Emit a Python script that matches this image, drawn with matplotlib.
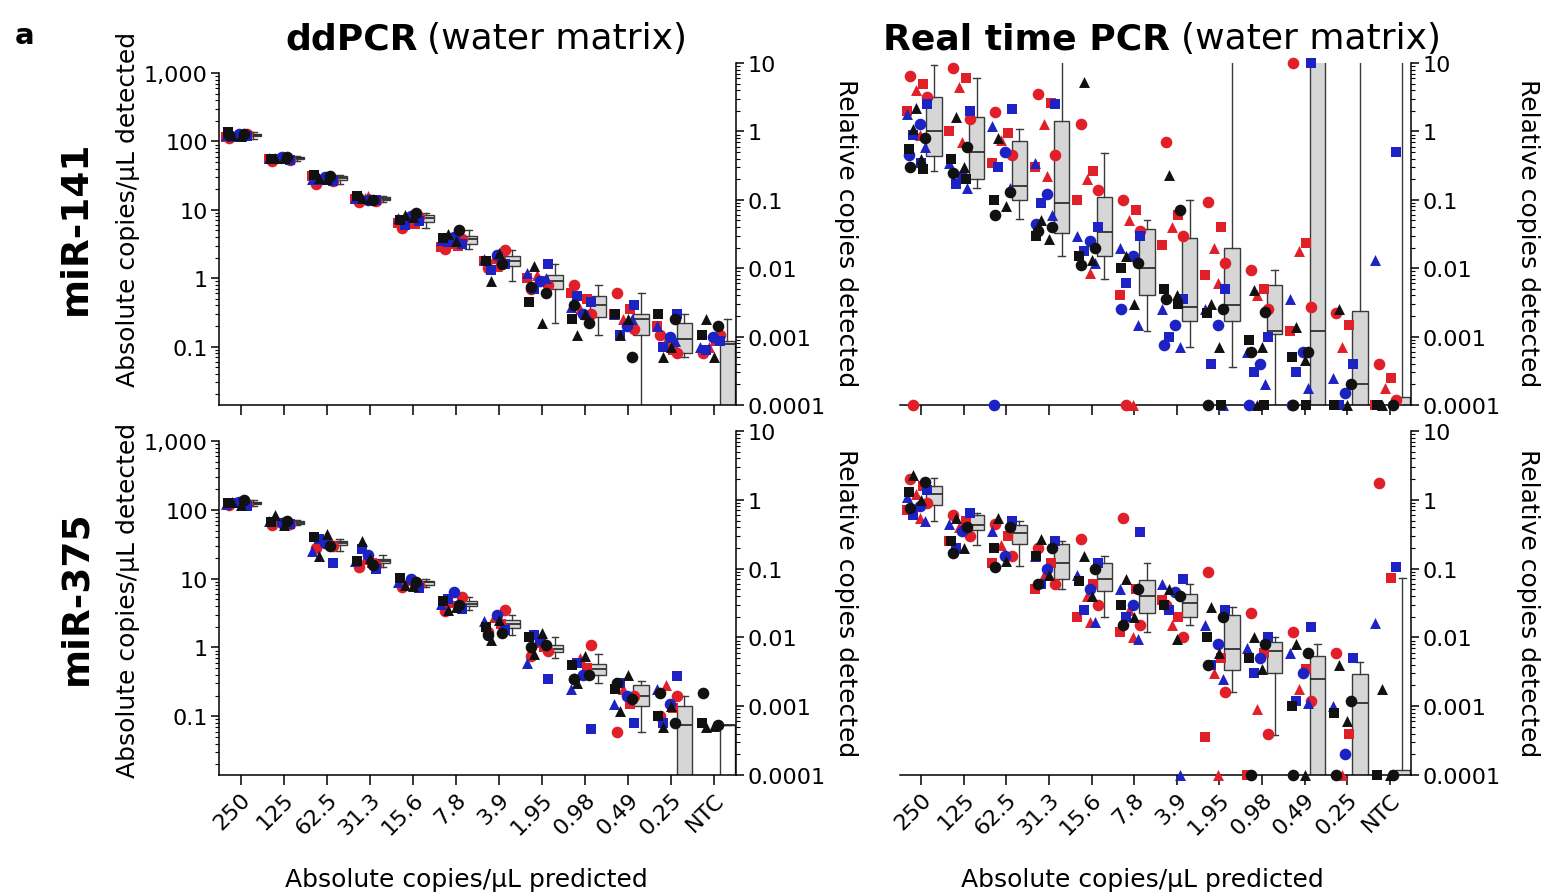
import numpy as np
import matplotlib
matplotlib.use('Agg')
import matplotlib.pyplot as plt
from matplotlib.ticker import FixedLocator, FixedFormatter, LogLocator, NullFormatter

plt.rcParams['font.family'] = ['DejaVu Sans']

W, H = 1546, 895

categories = ['250', '125', '62.5', '31.3', '15.6', '7.8', '3.9', '1.95', '0.98', '0.49', '0.25', 'NTC']

# ---- ddPCR miR-141 (absolute copies/uL) ----
dd141_red = [[112, 118, 122, 128, 115, 125], [52, 55, 58, 54, 56, 60], [24, 27, 29, 26, 31, 28],
             [13, 14, 15, 13.5, 14.5, 16], [5.5, 6.2, 7.0, 7.8, 6.5, 8.3], [2.7, 3.0, 3.3, 3.8, 2.9, 4.2],
             [1.4, 1.7, 2.0, 2.6, 1.8, 1.5], [0.7, 0.9, 1.1, 0.8, 1.0], [0.8, 0.5, 0.35, 0.3, 0.6],
             [0.6, 0.35, 0.25, 0.18, 0.3], [0.15, 0.09, 0.12, 0.08, 0.2], [0.08, 0.12, 0.1, 0.15]]
dd141_blue = [[120, 126, 130, 117, 124], [54, 57, 59, 56], [26, 28, 30, 27],
              [14, 15, 13.8], [6.8, 7.5, 8.0, 6.0], [3.2, 3.6, 4.0, 3.4],
              [1.6, 1.9, 2.2, 1.3], [1.6, 1.2, 0.9, 0.7, 1.0], [0.45, 0.38, 0.3, 0.55, 0.25],
              [0.4, 0.3, 0.2, 0.15, 0.25], [0.3, 0.2, 0.14, 0.1, 0.12], [0.12, 0.1, 0.14, 0.09]]
dd141_black = [[122, 128, 135, 119, 125], [58, 60, 55, 57], [29, 31, 32, 28],
               [15, 14, 16, 14.5], [8.5, 9.0, 7.2, 7.8], [4.5, 5.0, 3.9, 3.5],
               [0.9, 1.6, 1.8, 2.3], [1.5, 0.6, 0.45, 0.22, 0.75], [0.15, 0.22, 0.25, 0.3, 0.4],
               [0.15, 0.07, 0.3, 0.25], [0.07, 0.25, 0.3, 0.1], [0.25, 0.2, 0.15, 0.07]]
# (min, q1, median, q3, max); 0 = not detected
dd141_box = [(110, 118, 124, 130, 135), (52, 55, 57, 59, 61), (24, 27, 29, 31, 32),
             (13, 13.8, 14.5, 15.3, 16), (5.5, 6.6, 7.5, 8.3, 9), (2.7, 3.2, 3.7, 4.2, 5),
             (0.9, 1.5, 1.8, 2.1, 2.6), (0.22, 0.7, 0.9, 1.1, 1.6), (0.15, 0.27, 0.4, 0.55, 0.8),
             (0, 0.15, 0.25, 0.3, 0.6), (0.07, 0.08, 0.13, 0.22, 0.3), (0, 0, 0.11, 0.12, 0.25)]

# ---- ddPCR miR-375 (absolute copies/uL) ----
dd375_red = [[118, 125, 130, 122], [60, 65, 70, 62], [28, 32, 36, 30], [15, 17, 19, 16],
             [7.5, 8.5, 9.5, 8], [3.4, 4.0, 4.6, 5.5], [1.7, 2.2, 2.8, 3.5], [0.75, 1.0, 1.2, 0.9],
             [0.35, 0.5, 0.7, 1.1], [0.06, 0.15, 0.25, 0.2], [0.1, 0.13, 0.28, 0.2], []]
dd375_blue = [[115, 120, 128, 124], [62, 68, 64], [17, 25, 33, 38], [14, 18, 22, 27],
              [7.2, 8.8, 9.8], [3.6, 4.3, 6.5, 5.0], [1.8, 2.4, 3.0], [0.35, 0.6, 1.3, 1.5],
              [0.065, 0.25, 0.4, 0.6], [0.08, 0.15, 0.2, 0.3], [0.38, 0.25, 0.15, 0.08], []]
dd375_black = [[130, 140, 126, 119], [85, 70, 66, 60], [21, 30, 40, 45], [35, 16, 18, 20],
               [8.2, 9.0, 10.2, 7.8], [3.5, 4.2, 4.8, 3.9], [1.3, 1.6, 2.0, 2.5, 1.5],
               [0.8, 1.1, 1.4, 1.6, 1.0], [0.3, 0.4, 0.55, 0.75, 0.35], [0.12, 0.18, 0.25, 0.4, 0.3],
               [0.07, 0.08, 0.1, 0.14, 0.22], [0.07, 0.075, 0.08, 0.072, 0.22]]
dd375_box = [(115, 120, 125, 130, 140), (60, 62, 65, 68, 72), (25, 31, 33, 35, 38),
             (15, 17, 18, 19.5, 22), (7.5, 8.2, 8.8, 9.4, 10), (3.5, 4.0, 4.3, 4.8, 5.5),
             (1.5, 1.9, 2.2, 2.5, 3.0), (0.7, 0.85, 0.95, 1.1, 1.4), (0.3, 0.4, 0.48, 0.58, 0.8),
             (0.06, 0.14, 0.2, 0.28, 0.33), (0, 0, 0.075, 0.14, 0.2), (0, 0, 0.075, 0.075, 0.075)]

# ---- Real time PCR miR-141 (relative copies) ----
rt141_red = [[6.5, 5.0, 4.0, 3.2, 2.0, 0.9, 0], [8.5, 6.0, 4.5, 1.5, 1.0, 0.7], [1.9, 0.95, 0.75, 0.45, 0.35],
             [3.5, 2.6, 1.3, 0.45, 0.3, 0.22], [1.3, 0.26, 0.2, 0.14, 0.1, 0.0085],
             [0.1, 0.07, 0.05, 0.035, 0.004, 0, 0], [0.7, 0.06, 0.04, 0.03, 0.022],
             [0.093, 0.04, 0.02, 0.012, 0.008, 0.006], [0.0095, 0.005, 0.004, 0.0025],
             [10, 0.023, 0.018, 0.0027, 0.0012], [0.0022, 0.0015, 0.0007], [0.0004, 0.00025, 0.00018, 0.00012, 0]]
rt141_blue = [[2.5, 1.8, 1.3, 0.9, 0.6, 0.45, 0.35], [2.0, 0.35, 0.22, 0.17, 0.15], [2.1, 1.2, 0.5, 0.3, 0.15, 0],
              [2.5, 0.35, 0.12, 0.09, 0.06, 0.045], [0.04, 0.03, 0.025, 0.018, 0.012],
              [0.03, 0.02, 0.015, 0.006, 0.0015, 0.0025], [0.0035, 0.0025, 0.0015, 0.001, 0.0007, 0.00075],
              [0.005, 0.0025, 0.0015, 0.0004, 0], [0.001, 0.0006, 0.0004, 0.0003, 0.0002, 0],
              [10, 0.0035, 0.0006, 0.0003, 0.00018, 0], [0.0004, 0.00025, 0.00015, 0], [0.5, 0.013]]
rt141_black = [[1.1, 0.8, 0.55, 0.4, 0.3, 0.28, 2.2], [1.6, 0.6, 0.4, 0.3, 0.25, 0.2], [0.8, 0.13, 0.1, 0.08, 0.06],
               [0.05, 0.04, 0.03, 0.027, 0.035], [5.3, 0.02, 0.015, 0.013, 0.011], [0.015, 0.012, 0.01, 0.003],
               [0.23, 0.07, 0.005, 0.004, 0.0035, 0.003], [0.003, 0.0025, 0.0022, 0.0007, 0, 0],
               [0.0048, 0.0023, 0.0009, 0.0007, 0.0006, 0, 0], [0.0014, 0.0006, 0.0005, 0.00045, 0, 0],
               [0.0025, 0.0002, 0, 0], [0, 0, 0]]
rt141_box = [(0.26, 0.43, 1.0, 3.2, 9.5), (0.15, 0.2, 0.5, 1.6, 6), (0.053, 0.1, 0.16, 0.72, 1.1),
             (0.015, 0.033, 0.09, 1.4, 100), (0.007, 0.015, 0.034, 0.11, 0.49), (0.0012, 0.0041, 0.01, 0.037, 0.05),
             (0.0007, 0.0017, 0.0027, 0.028, 0.1), (0.00036, 0.0017, 0.0029, 0.02, 100),
             (0, 0.0011, 0.0012, 0.0056, 0.0095), (0, 0, 0.0012, 100, 100), (0, 0, 0.0002, 0.0024, 100),
             (0, 0, 0, 0.00013, 100)]

# ---- Real time PCR miR-375 (relative copies) ----
rt375_red = [[2.0, 1.6, 1.2, 0.9, 0.7, 0.55], [0.6, 0.5, 0.4, 0.3, 0.25], [0.45, 0.3, 0.22, 0.15, 0.12],
             [0.2, 0.12, 0.08, 0.06, 0.05], [0.27, 0.06, 0.04, 0.03, 0.02, 0.017],
             [0.54, 0.05, 0.025, 0.015, 0.012, 0.01], [0.03, 0.02, 0.015, 0.01, 0.035],
             [0.089, 0.005, 0.003, 0.0016, 0.00036, 0], [0.023, 0.006, 0.0009, 0.0004, 0],
             [0.012, 0.0035, 0.0018, 0.0012], [0.006, 0.0004, 0], [1.75, 0.072]]
rt375_blue = [[1.4, 1.1, 0.8, 0.6, 0.5], [0.65, 0.45, 0.35, 0.2], [0.5, 0.35, 0.15],
              [0.25, 0.15, 0.1, 0.06], [0.12, 0.08, 0.05, 0.025, 0.017], [0.34, 0.05, 0.03, 0.02, 0.0095],
              [0.07, 0.06, 0.045, 0.025, 0], [0.025, 0.015, 0.008, 0.004, 0.0025], [0.01, 0.007, 0.005, 0.003],
              [0.014, 0.006, 0.003, 0.0012, 0.0011], [0.005, 0.001, 0.0002], [0.105, 0.016]]
rt375_black = [[2.3, 1.8, 1.3, 1.0, 0.75], [0.55, 0.4, 0.25, 0.2, 0.17], [0.55, 0.4, 0.2, 0.13, 0.105],
               [0.27, 0.2, 0.15, 0.08, 0.06], [0.15, 0.1, 0.065, 0.04], [0.07, 0.05, 0.03, 0.02, 0.015],
               [0.05, 0.04, 0.03, 0.0095], [0.028, 0.02, 0.01, 0.006, 0.004], [0.01, 0.008, 0.005, 0.0035, 0],
               [0.008, 0.006, 0.001, 0, 0], [0.004, 0.0012, 0.0008, 0.0006, 0], [0.0018, 0, 0, 0]]
rt375_box = [(0.5, 0.85, 1.2, 1.6, 2.1), (0.22, 0.37, 0.43, 0.6, 0.65), (0.11, 0.23, 0.33, 0.43, 0.5),
             (0.05, 0.07, 0.12, 0.23, 0.25), (0.02, 0.048, 0.07, 0.12, 0.15), (0.012, 0.023, 0.04, 0.068, 0.12),
             (0.015, 0.02, 0.032, 0.043, 0.06), (0.0016, 0.0034, 0.0068, 0.021, 0.028),
             (0.00038, 0.003, 0.0063, 0.0085, 0.01), (0, 0, 0.0025, 0.0053, 0.008), (0, 0, 0.0011, 0.0029, 0.0044),
             (0, 0, 0, 0.00012, 0.072)]

abs_ticks = [1000, 100, 10, 1, 0.1]
abs_labels = ['1,000', '100', '10', '1', '0.1']
rel_ticks = [10, 1, 0.1, 0.01, 0.001, 0.0001]
rel_labels = ['10', '1', '0.1', '0.01', '0.001', '0.0001']

RED = '#e11f28'
BLUE = '#1d22c4'
BLACK = '#111111'
BOX_FILL = '#d6d6d6'
MARKERS = ['o', 's', '^']
MSIZE = {'o': 70, 's': 56, '^': 62}
JITTER = [-0.22, 0.08, -0.08, 0.18, -0.3, 0.0, -0.15, 0.12, -0.26, 0.04]
TICK_FS = 16
LABEL_FS = 18


def px(x, y):
    return x / W, 1 - y / H


def draw_points(ax, series, floor):
    for ci, (vals, color) in enumerate(series):
        pts = {m: ([], []) for m in MARKERS}
        for i, cat_vals in enumerate(vals):
            for k, v in enumerate(cat_vals):
                m = MARKERS[(k + ci) % 3]
                pts[m][0].append(i - 0.04 + JITTER[(k + 3 * ci) % len(JITTER)])
                pts[m][1].append(v if v > 0 else floor)
        for m, (xs, ys) in pts.items():
            ax.scatter(xs, ys, marker=m, s=MSIZE[m], color=color, linewidths=0,
                       zorder=3, clip_on=False)


def draw_boxes(ax, stats, tiny, fills=None):
    f = lambda v: v if v > 0 else tiny
    bstats = [dict(whislo=f(lo), q1=f(q1), med=f(med), q3=f(q3), whishi=f(hi), fliers=[])
              for lo, q1, med, q3, hi in stats]
    parts = ax.bxp(bstats, positions=np.arange(len(stats)) + 0.3, widths=0.36, patch_artist=True,
                   showfliers=False, capwidths=0.16, manage_ticks=False, zorder=2,
                   boxprops=dict(facecolor=BOX_FILL, edgecolor='#3a3a3a', linewidth=1.0),
                   medianprops=dict(color='#222222', linewidth=1.2),
                   whiskerprops=dict(color='#3a3a3a', linewidth=1.0),
                   capprops=dict(color='#3a3a3a', linewidth=1.0))
    if fills:
        for patch, fc in zip(parts['boxes'], fills):
            patch.set_facecolor(fc)


def style_x(ax, show_labels):
    ax.set_xlim(-0.5, 11.5)
    ax.set_xticks(range(len(categories)))
    if show_labels:
        ax.set_xticklabels(categories, rotation=45, ha='right', rotation_mode='anchor', fontsize=TICK_FS)
    else:
        ax.set_xticklabels([])
    ax.tick_params(axis='x', direction='out', length=7, width=1.1, pad=3)
    ax.spines['bottom'].set_linewidth(1.1)
    ax.spines['top'].set_visible(False)


def style_log_y(axis_obj, ticks, labels):
    axis_obj.set_major_locator(FixedLocator(ticks))
    axis_obj.set_major_formatter(FixedFormatter(labels))
    axis_obj.set_minor_locator(LogLocator(base=10, subs=np.arange(2, 10)))
    axis_obj.set_minor_formatter(NullFormatter())


def ddpcr_panel(rect, series, box, show_labels, fills=None):
    ax = fig.add_axes(rect)
    ax.set_yscale('log')
    ax.set_ylim(0.014, 1400)
    draw_boxes(ax, box, 1e-6, fills)
    draw_points(ax, series, 0.014)
    style_x(ax, show_labels)
    style_log_y(ax.yaxis, abs_ticks, abs_labels)
    ax.tick_params(axis='y', which='major', direction='out', length=6, width=1.1, labelsize=TICK_FS, pad=2)
    ax.tick_params(axis='y', which='minor', direction='out', length=3, width=0.8)
    ax.spines['left'].set_bounds(0.014, 1000)
    ax.spines['left'].set_linewidth(1.1)
    ax.spines['right'].set_visible(False)
    ax2 = ax.twinx()
    ax2.set_yscale('log')
    ax2.set_ylim(1e-4, 10)
    style_log_y(ax2.yaxis, rel_ticks, rel_labels)
    ax2.tick_params(axis='y', which='major', direction='out', length=6, width=1.1, labelsize=TICK_FS, pad=2)
    ax2.tick_params(axis='y', which='minor', direction='out', length=3, width=0.8)
    for s in ['top', 'left', 'bottom']:
        ax2.spines[s].set_visible(False)
    ax2.spines['right'].set_linewidth(1.1)
    return ax


def rtpcr_panel(rect, series, box, show_labels):
    ax = fig.add_axes(rect)
    ax.set_yscale('log')
    ax.set_ylim(1e-4, 10)
    draw_boxes(ax, box, 1e-8)
    draw_points(ax, series, 1e-4)
    style_x(ax, show_labels)
    ax.spines['left'].set_visible(False)
    ax.yaxis.tick_right()
    style_log_y(ax.yaxis, rel_ticks, rel_labels)
    ax.tick_params(axis='y', which='major', direction='out', length=6, width=1.1, labelsize=TICK_FS, pad=2)
    ax.tick_params(axis='y', which='minor', direction='out', length=3, width=0.8)
    ax.spines['right'].set_linewidth(1.1)
    return ax


fig = plt.figure(figsize=(W / 100, H / 100), dpi=100)

top_b, top_h = 1 - 406 / H, 342 / H
bot_b, bot_h = 1 - 776 / H, 344 / H
left_l, left_w = 219 / W, 517 / W
right_l, right_w = 900 / W, 511 / W

ddpcr_panel([left_l, top_b, left_w, top_h],
            [(dd141_red, RED), (dd141_blue, BLUE), (dd141_black, BLACK)], dd141_box, False)
rtpcr_panel([right_l, top_b, right_w, top_h],
            [(rt141_red, RED), (rt141_blue, BLUE), (rt141_black, BLACK)], rt141_box, False)
ddpcr_panel([left_l, bot_b, left_w, bot_h],
            [(dd375_red, RED), (dd375_blue, BLUE), (dd375_black, BLACK)], dd375_box, True,
            fills=[BOX_FILL] * 11 + ['white'])
rtpcr_panel([right_l, bot_b, right_w, bot_h],
            [(rt375_red, RED), (rt375_blue, BLUE), (rt375_black, BLACK)], rt375_box, True)

# titles and labels
fig.text(*px(15, 44), 'a', fontsize=21, fontweight='bold', ha='left', va='baseline')
fig.text(*px(418, 49), 'ddPCR', fontsize=26, fontweight='bold', ha='right', va='baseline')
fig.text(*px(427, 49), '(water matrix)', fontsize=26, ha='left', va='baseline')
fig.text(*px(1170, 49), 'Real time PCR', fontsize=26, fontweight='bold', ha='right', va='baseline')
fig.text(*px(1181, 49), '(water matrix)', fontsize=26, ha='left', va='baseline')

fig.text(*px(76, 228), 'miR-141', fontsize=27, fontweight='bold', rotation=90, ha='center', va='center')
fig.text(*px(76, 598), 'miR-375', fontsize=27, fontweight='bold', rotation=90, ha='center', va='center')

for yc in (209, 600):
    fig.text(*px(128, yc), 'Absolute copies/\u00b5L detected', fontsize=LABEL_FS, rotation=90,
             ha='center', va='center')
for xc in (846, 1528):
    fig.text(*px(xc, 233), 'Relative copies detected', fontsize=LABEL_FS, rotation=-90, ha='center', va='center')
    fig.text(*px(xc, 603), 'Relative copies detected', fontsize=LABEL_FS, rotation=-90, ha='center', va='center')
for xc in (466, 1142):
    fig.text(*px(xc, 880), 'Absolute copies/\u00b5L predicted', fontsize=LABEL_FS, ha='center', va='center')

fig.savefig('out.png', dpi=100)
